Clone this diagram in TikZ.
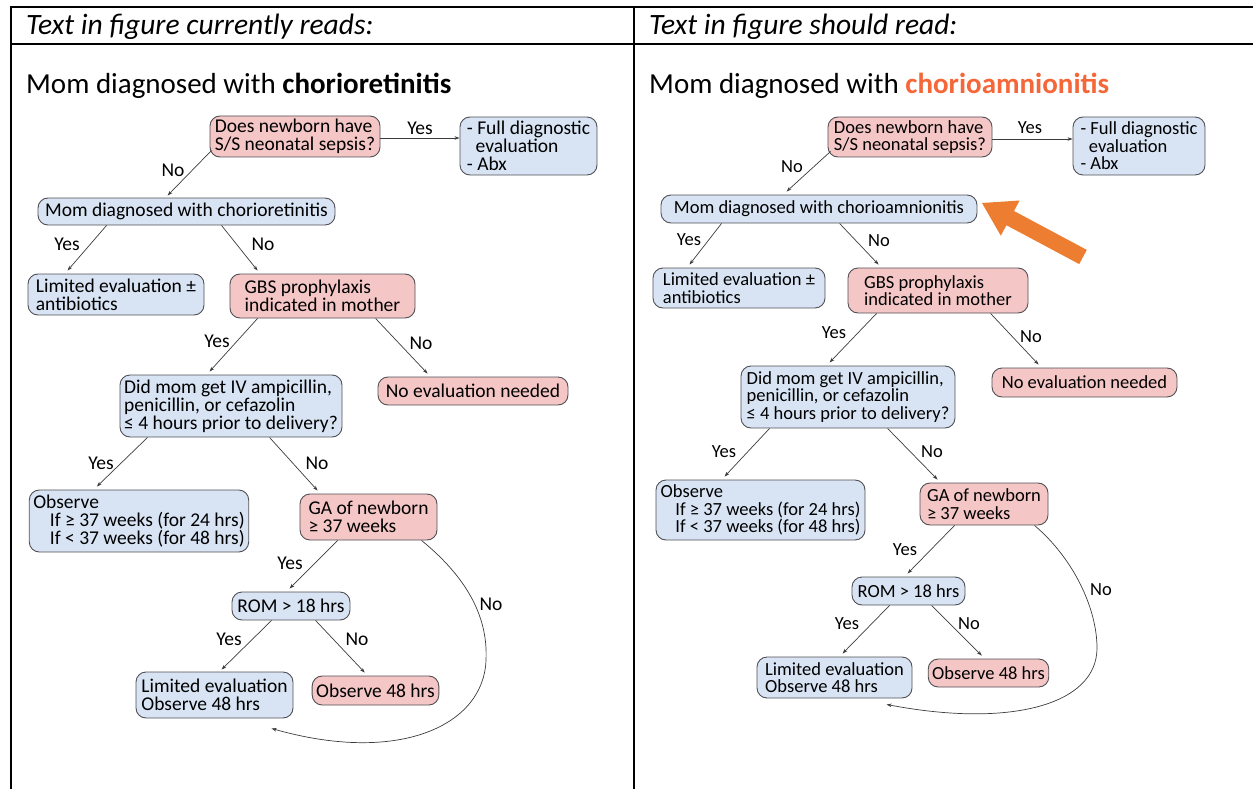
\documentclass[tikz,border=0pt]{standalone}
\usepackage{fontspec}
\setmainfont{Carlito}
\usetikzlibrary{arrows.meta}
\definecolor{bfill}{RGB}{216,228,244}
\definecolor{pfill}{RGB}{245,198,198}
\definecolor{bord}{RGB}{80,80,85}
\definecolor{lin}{RGB}{60,60,60}
\definecolor{orarrow}{RGB}{237,125,49}
\definecolor{ortext}{RGB}{245,102,56}
\begin{document}
\begin{tikzpicture}[x=1pt,y=-1pt,
  box/.style={draw=bord, line width=0.9pt, rounded corners=10pt, align=left, inner xsep=4pt, inner ysep=1pt},
  lb/.style={box, fill=bfill},
  pk/.style={box, fill=pfill},
  lf/.style={font=\fontsize{19.5}{18}\selectfont},
  rf/.style={font=\fontsize{18.5}{17.5}\selectfont},
  sz/.style 2 args={minimum width=#1pt, minimum height=#2pt},
  arr/.style={draw=lin, line width=0.7pt, -{Stealth[length=5pt,width=3.5pt]}},
  lab/.style={inner sep=0pt},
  tl/.style={line width=2pt, draw=black},
  hd/.style={anchor=base west, inner sep=0pt, font=\fontsize{29.5}{32}\selectfont\itshape},
  tt/.style={anchor=base west, inner sep=0pt, font=\fontsize{29}{32}\selectfont}
]
\useasboundingbox (0,0) rectangle (1253,789);
% table
\draw[tl] (11,7) -- (1253,7);
\draw[tl] (11,44) -- (1253,44);
\draw[tl] (11,6) -- (11,789);
\draw[tl] (634,6) -- (634,789);
\node[hd] (h1) at (26,35) {Text in figure currently reads:};
\node[hd] (h2) at (649,35) {Text in figure should read:};
\node[tt] (t1) at (26,94) {Mom diagnosed with \textbf{chorioretinitis}};
\node[tt] (t2) at (649,94) {Mom diagnosed with \textcolor{ortext}{\textbf{chorioamnionitis}}};

% ---------------- left flowchart
\begin{scope}[every node/.append style={lf}]
\node[pk,sz={170}{41}] (L1) at (295,136.5) {Does newborn have\\S/S neonatal sepsis?};
\node[lb,sz={137}{58}] (L2) at (528.5,146) {- Full diagnostic\\\hspace*{0.45em}evaluation\\- Abx};
\node[lb,sz={297}{27}] (L3) at (186.5,211.5) {Mom diagnosed with chorioretinitis};
\node[lb,sz={176}{41}] (L4) at (116,294.5) {Limited evaluation ±\\antibiotics};
\node[pk,sz={185}{44}] (L5) at (322.5,296) {GBS prophylaxis\\indicated in mother};
\node[lb,sz={222}{62}] (L6) at (231,406) {Did mom get IV ampicillin,\\penicillin, or cefazolin\\≤ 4 hours prior to delivery?};
\node[pk,sz={190}{28}] (L7) at (473,391) {No evaluation needed};
\node[lb,sz={214}{62}] (L8) at (139,521) {Observe\\\hspace*{0.85em}If ≥ 37 weeks (for 24 hrs)\\\hspace*{0.85em}If < 37 weeks (for 48 hrs)};
\node[pk,sz={137}{46}] (L9) at (368.5,517) {GA of newborn\\≥ 37 weeks};
\node[lb,sz={118}{28}] (L10) at (291,606) {ROM > 18 hrs};
\node[lb,sz={157}{46}] (L11) at (214.5,695) {Limited evaluation\\Observe 48 hrs};
\node[pk,sz={125}{29}] (L12) at (375.5,690.5) {Observe 48 hrs};

\draw[arr] ([shift={(0,1.5)}]L1.east) -- ([shift={(0,-8)}]L2.west);
\draw[arr] ([shift={(2,-7)}]L1.south west) -- ([shift={(130,-2)}]L3.north west);
\draw[arr] ([shift={(69,0)}]L3.south west) -- ([shift={(40,-3)}]L4.north west);
\draw[arr] ([shift={(184,0)}]L3.south west) -- ([shift={(28,-3)}]L5.north west);
\draw[arr] ([shift={(28,0)}]L5.south west) -- ([shift={(90,-3)}]L6.north west);
\draw[arr] ([shift={(146,0)}]L5.south west) -- ([shift={(50,-3)}]L7.north west);
\draw[arr] ([shift={(28,0)}]L6.south west) -- ([shift={(68,-3)}]L8.north west);
\draw[arr] ([shift={(150,0)}]L6.south west) -- ([shift={(18,-3)}]L9.north west);
\draw[arr] ([shift={(38,0)}]L9.south west) -- ([shift={(58,-3)}]L10.north west);
\draw[arr] ([shift={(40,0)}]L10.south west) -- ([shift={(86,-2)}]L11.north west);
\draw[arr] ([shift={(84,0)}]L10.south west) -- ([shift={(53,-3)}]L12.north west);
\draw[arr] ([shift={(122,0)}]L9.south west) .. controls (470,580) and (488,620) .. (486,660)
   .. controls (484,725) and (400,765) .. ([shift={(136,10)}]L11.south west);

\node[lab] (a1) at (420,128) {Yes};
\node[lab] (a2) at (173,170) {No};
\node[lab] (a3) at (67,244) {Yes};
\node[lab] (a4) at (263,244) {No};
\node[lab] (a5) at (217,341) {Yes};
\node[lab] (a6) at (421,343) {No};
\node[lab] (a7) at (101,463) {Yes};
\node[lab] (a8) at (317,463) {No};
\node[lab] (a9) at (290,563) {Yes};
\node[lab] (a10) at (229,639) {Yes};
\node[lab] (a11) at (357,639) {No};
\node[lab] (a12) at (491,604) {No};
\end{scope}

% ---------------- right flowchart
\begin{scope}[every node/.append style={rf}]
\node[pk,sz={164}{40}] (R1) at (910,137) {Does newborn have\\S/S neonatal sepsis?};
\node[lb,sz={132}{58}] (R2) at (1139,146) {- Full diagnostic\\\hspace*{0.45em}evaluation\\- Abx};
\node[lb,sz={316}{28}] (R3) at (819,209) {Mom diagnosed with chorioamnionitis};
\node[lb,sz={172}{40}] (R4) at (739,288) {Limited evaluation ±\\antibiotics};
\node[pk,sz={180}{45}] (R5) at (938,290.5) {GBS prophylaxis\\indicated in mother};
\node[lb,sz={214}{62}] (R6) at (848,397) {Did mom get IV ampicillin,\\penicillin, or cefazolin\\≤ 4 hours prior to delivery?};
\node[pk,sz={185}{29}] (R7) at (1084.5,382.5) {No evaluation needed};
\node[lb,sz={209}{60}] (R8) at (760.5,510) {Observe\\\hspace*{0.8em}If ≥ 37 weeks (for 24 hrs)\\\hspace*{0.8em}If < 37 weeks (for 48 hrs)};
\node[pk,sz={128}{42}] (R9) at (984,504) {GA of newborn\\≥ 37 weeks};
\node[lb,sz={113}{28}] (R10) at (908.5,591) {ROM > 18 hrs};
\node[lb,sz={155}{41}] (R11) at (834.5,677.5) {Limited evaluation\\Observe 48 hrs};
\node[pk,sz={119}{28}] (R12) at (988.5,673) {Observe 48 hrs};

\draw[arr] ([shift={(0,2)}]R1.east) -- ([shift={(0,-7)}]R2.west);
\draw[arr] ([shift={(3,-6)}]R1.south west) -- ([shift={(126,-3)}]R3.north west);
\draw[arr] ([shift={(61,0)}]R3.south west) -- ([shift={(37,-3)}]R4.north west);
\draw[arr] ([shift={(179,0)}]R3.south west) -- ([shift={(31,-3)}]R5.north west);
\draw[arr] ([shift={(29,0)}]R5.south west) -- ([shift={(89,-3)}]R6.north west);
\draw[arr] ([shift={(143,0)}]R5.south west) -- ([shift={(47,-3)}]R7.north west);
\draw[arr] ([shift={(29,0)}]R6.south west) -- ([shift={(69,-3)}]R8.north west);
\draw[arr] ([shift={(147,0)}]R6.south west) -- ([shift={(18,-3)}]R9.north west);
\draw[arr] ([shift={(35,0)}]R9.south west) -- ([shift={(56,-3)}]R10.north west);
\draw[arr] ([shift={(38,0)}]R10.south west) -- ([shift={(86,-3)}]R11.north west);
\draw[arr] ([shift={(80,0)}]R10.south west) -- ([shift={(54,-3)}]R12.north west);
\draw[arr] ([shift={(115,0)}]R9.south west) .. controls (1075,560) and (1097,610) .. (1097,648)
   .. controls (1097,705) and (1010,728) .. ([shift={(130,6)}]R11.south west);

\node[lab] (b1) at (1030,128) {Yes};
\node[lab] (b2) at (792,167) {No};
\node[lab] (b3) at (689,240) {Yes};
\node[lab] (b4) at (879,241) {No};
\node[lab] (b5) at (834,333) {Yes};
\node[lab] (b6) at (1031,337) {No};
\node[lab] (b7) at (724,452) {Yes};
\node[lab] (b8) at (932,452) {No};
\node[lab] (b9) at (905,550) {Yes};
\node[lab] (b10) at (847,624) {Yes};
\node[lab] (b11) at (969,624) {No};
\node[lab] (b12) at (1101,590) {No};
\end{scope}

% orange arrow
\fill[orarrow] (982,203) -- (1019.6,200.5) -- (1014.0,211.0) -- (1086.8,249.9) -- (1079.2,264.1) -- (1006.4,225.2) -- (1000.8,235.7) -- cycle;
\end{tikzpicture}
\end{document}
